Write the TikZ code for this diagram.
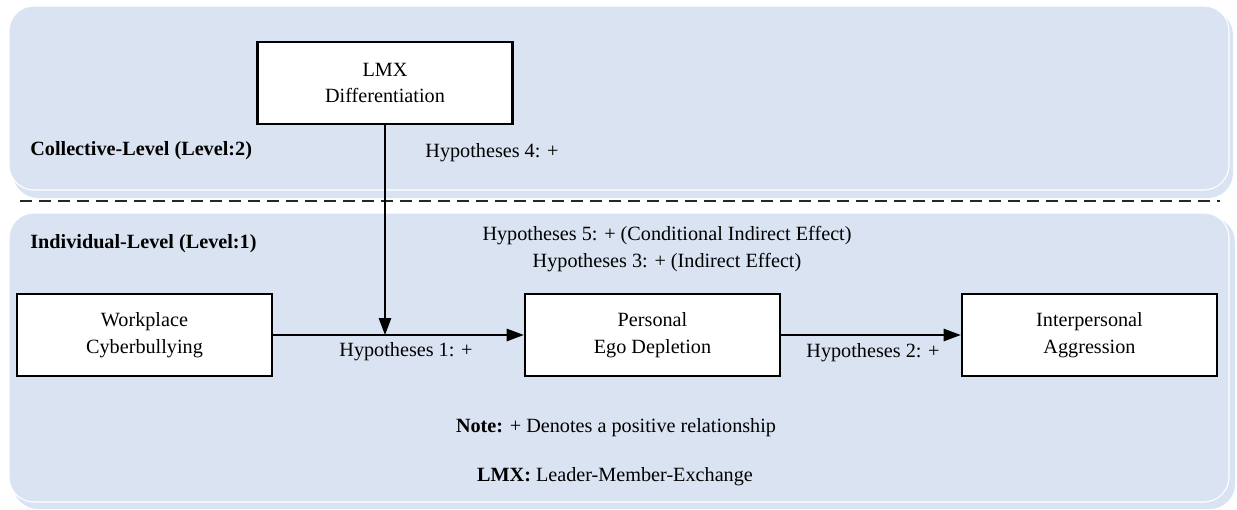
\documentclass[tikz,border=0pt]{standalone}
\usepackage{fontspec}
\setmainfont{Liberation Serif}
\usetikzlibrary{arrows.meta}
\definecolor{panelblue}{RGB}{218,227,242}

\begin{document}
\begin{tikzpicture}[x=0.02cm, y=-0.02cm,
    font=\fontsize{11.5}{15.3}\selectfont,
    panel/.style={fill=panelblue, draw=white, line width=0.6pt, rounded corners=0.5cm},
    backpanel/.style={fill=panelblue, rounded corners=0.5cm},
    varbox/.style={draw, fill=white, line width=1.5pt, minimum width=5.1cm,
        minimum height=1.64cm, align=center, inner sep=0pt},
    hyp/.style={align=center},
    level/.style={font=\fontsize{11.5}{15.3}\selectfont\bfseries, anchor=west, inner sep=0pt},
    link/.style={-{Triangle[length=0.34cm, width=0.25cm]}, line width=0.6pt}]
  \useasboundingbox (0,0) rectangle (1237,510);
  \fill[backpanel] (13,10) rectangle (1233,198);
  \draw[panel] (9,6) rectangle (1229,190);
  \fill[backpanel] (13,217) rectangle (1235,509);
  \draw[panel] (9,213) rectangle (1229,502);
  \draw[black!85, line width=1.1pt, dash pattern=on 0.25cm off 0.13cm] (20,201) -- (1220,201);

  \node[varbox] (lmx) at (385,83) {LMX\\Differentiation};
  \node[varbox] (wcb) at (144.5,335) {Workplace\\Cyberbullying};
  \node[varbox] (ped) at (652.5,335) {Personal\\Ego Depletion};
  \node[varbox] (ia) at (1089.5,335) {Interpersonal\\Aggression};

  \coordinate (mod) at (lmx.south |- wcb.east);
  \draw[link] (wcb) -- (ped);
  \draw[link] (ped) -- (ia);
  \draw[link] (lmx) -- (mod);

  \node[level] (coll) at (30,151) {Collective-Level (Level:2)};
  \node[level] (indiv) at (30,244) {Individual-Level (Level:1)};
  \node (h4) at (492,153) {Hypotheses 4: +};
  \node[hyp] (h53) at (667,249) {Hypotheses 5: + (Conditional Indirect Effect)\\Hypotheses 3: + (Indirect Effect)};
  \node (h1) at (406,352) {Hypotheses 1: +};
  \node (h2) at (873,353) {Hypotheses 2: +};
  \node (note) at (616,428) {\textbf{Note:} + Denotes a positive relationship};
  \node (abbr) at (615,477) {\textbf{LMX:} Leader-Member-Exchange};
\end{tikzpicture}
\end{document}
